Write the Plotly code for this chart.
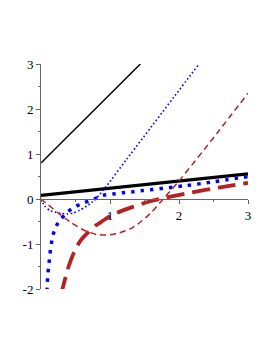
import plotly.graph_objects as go

# ---- data ----
thin_black_x = [0.0, 1.44]
thin_black_y = [0.80, 3.0]

thick_black_x = [0.0, 3.0]
thick_black_y = [0.08, 0.56]

thin_blue_x = [0.0, 0.05, 0.13, 0.20, 0.29, 0.38, 0.47, 0.56, 0.66, 0.73, 0.81, 0.95, 1.24, 2.30]
thin_blue_y = [0.0, -0.15, -0.26, -0.29, -0.32, -0.33, -0.31, -0.25, -0.16, -0.08, 0.03, 0.29, 0.88, 3.02]

thick_blue_x = [0.085, 0.091, 0.097, 0.116, 0.126, 0.145, 0.17, 0.22, 0.29, 0.39, 0.51, 0.63,
                0.77, 0.90, 1.04, 1.19, 1.33, 1.48, 1.62, 1.77, 1.91, 2.06, 2.50, 3.00]
thick_blue_y = [-2.05, -1.90, -1.70, -1.45, -1.26, -1.05, -0.82, -0.60, -0.44, -0.28, -0.16, -0.08,
                0.0, 0.08, 0.11, 0.14, 0.16, 0.19, 0.21, 0.24, 0.26, 0.29, 0.38, 0.50]

thin_red_x = [0.0, 0.106, 0.24, 0.44, 0.63, 0.81, 0.95, 1.10, 1.30, 1.45, 1.60, 1.77, 2.00, 2.55, 3.00]
thin_red_y = [0.0, -0.13, -0.30, -0.53, -0.70, -0.79, -0.80, -0.77, -0.66, -0.50, -0.30, 0.0, 0.40, 1.46, 2.35]

thick_red_x = [0.29, 0.30, 0.40, 0.49, 0.58, 0.69, 0.80, 0.88, 1.05, 1.34, 1.58, 1.77, 2.16, 2.60, 3.00]
thick_red_y = [-2.12, -2.06, -1.50, -1.14, -0.91, -0.73, -0.58, -0.50, -0.34, -0.17, -0.05, 0.02, 0.14, 0.26, 0.36]

y_tickvals = [-2, -1, 0, 1, 2, 3]
y_ticktext = ["-2", "-1", "0", "1", "2", "3"]
x_tickvals = [1, 2, 3]
x_ticktext = ["1", "2", "3"]

BLUE = "#0000FF"
RED = "#B22222"

fig = go.Figure()
fig.add_trace(go.Scatter(x=thin_black_x, y=thin_black_y, mode="lines",
                         line=dict(color="black", width=1.5)))
fig.add_trace(go.Scatter(x=thick_black_x, y=thick_black_y, mode="lines",
                         line=dict(color="black", width=3.2)))
fig.add_trace(go.Scatter(x=thin_blue_x, y=thin_blue_y, mode="lines",
                         line=dict(color=BLUE, width=1.6, dash="1.6px,2.4px", shape="spline", smoothing=0.6)))
fig.add_trace(go.Scatter(x=thick_blue_x, y=thick_blue_y, mode="lines",
                         line=dict(color=BLUE, width=3.5, dash="3.5px,6px", shape="spline", smoothing=0.6)))
fig.add_trace(go.Scatter(x=thin_red_x, y=thin_red_y, mode="lines",
                         line=dict(color=RED, width=1.5, dash="6px,4px", shape="spline", smoothing=0.6)))
fig.add_trace(go.Scatter(x=thick_red_x, y=thick_red_y, mode="lines",
                         line=dict(color=RED, width=3.8, dash="18px,8px", shape="spline", smoothing=0.6)))

axis_color = "#666666"
fig.update_layout(
    width=265, height=345,
    margin=dict(l=33, r=25, t=56, b=64),
    paper_bgcolor="white", plot_bgcolor="white",
    showlegend=False,
    font=dict(family="Liberation Serif", size=13, color="black"),
    xaxis=dict(range=[0, 3], showgrid=False, zeroline=False,
               showline=True, linecolor=axis_color, linewidth=1,
               anchor="free", position=0.4,
               tickmode="array", tickvals=x_tickvals, ticktext=x_ticktext,
               ticks="outside", ticklen=4, tickcolor=axis_color, tickwidth=1,
               minor=dict(dtick=0.5, tick0=0, ticks="outside", ticklen=2,
                          tickcolor=axis_color, showgrid=False),
               tickfont=dict(family="Liberation Serif", size=13, color="black")),
    yaxis=dict(range=[-2, 3], showgrid=False, zeroline=False,
               showline=True, linecolor=axis_color, linewidth=1,
               tickmode="array", tickvals=y_tickvals, ticktext=y_ticktext,
               ticks="outside", ticklen=4, tickcolor=axis_color, tickwidth=1,
               minor=dict(dtick=0.5, tick0=0, ticks="outside", ticklen=2,
                          tickcolor=axis_color, showgrid=False),
               tickfont=dict(family="Liberation Serif", size=13, color="black")),
)

fig.write_html("out.html")
